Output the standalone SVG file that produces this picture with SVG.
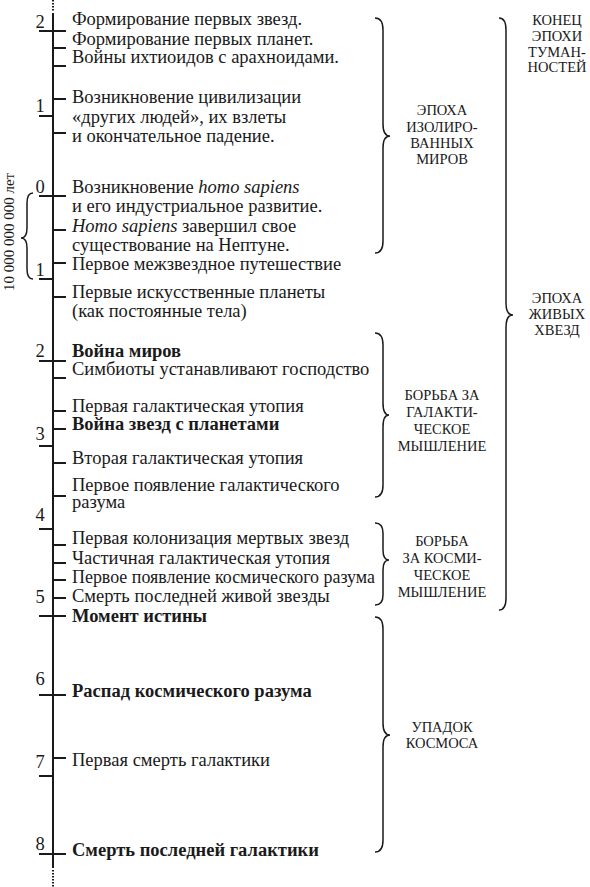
<svg xmlns="http://www.w3.org/2000/svg" width="590" height="887" viewBox="0 0 590 887">
<style>
text{font-family:'Liberation Serif','DejaVu Serif','Times New Roman',serif;fill:#1a1a1a}
.t{font-size:18.5px}
.b{font-weight:bold}
.i{font-style:italic}
.n{font-size:18.5px;text-anchor:middle}
.l{font-size:14.5px;text-anchor:middle}
.v{font-size:15px;text-anchor:middle}
.ax{stroke:#1a1a1a;stroke-width:2;fill:none}
.dot{stroke:#1a1a1a;stroke-width:2;stroke-dasharray:1.5 1.5;fill:none}
.br{stroke:#1a1a1a;stroke-width:1.5;fill:none}
</style>
<g id="connectors">
<line class="dot" x1="53" y1="0" x2="53" y2="11"/>
<line class="ax" x1="53" y1="13" x2="53" y2="868"/>
<line class="dot" x1="53" y1="870" x2="53" y2="887"/>
<path class="ax" d="M39,31H66M39,196H66M39,361H66M39,616H66M39,695H66M39,854H66"/>
<path class="ax" d="M39,116H53M39,279H53M39,446H53M39,529H53M39,776H53"/>
<path class="ax" d="M53,48H66M53,66H66M53,99H66M53,133H66M53,230H66M53,263H66M53,297H66M53,378H66M53,411H66M53,429H66M53,463H66M53,496H66M53,545H66M53,563H66M53,580H66M53,598H66M53,758H66"/>
<path class="br" d="M375,18Q383,18 383,30L383,124Q383,136 390,136Q383,136 383,148L383,241Q383,253 375,253"/>
<path class="br" d="M375,333Q383,333 383,345L383,403Q383,415 389,415Q383,415 383,427L383,485Q383,497 375,497"/>
<path class="br" d="M375,523Q383,523 383,533L383,550Q383,560 389,560Q383,560 383,570L383,595Q383,605 375,605"/>
<path class="br" d="M375,617Q383,617 383,629L383,723Q383,735 390,735Q383,735 383,747L383,840Q383,852 375,852"/>
<path class="br" d="M499,18Q506,18 506,30L506,303Q506,315 513,315Q506,315 506,327L506,598Q506,610 499,610"/>
<path class="br" d="M33,193Q27,193 27,203L27,228Q27,238 21,238Q27,238 27,248L27,269Q27,279 33,279"/>
</g>
<g id="scale">
<text class="n" x="40" y="28">2</text>
<text class="n" x="40" y="112">1</text>
<text class="n" x="40" y="193">0</text>
<text class="n" x="40" y="276">1</text>
<text class="n" x="40" y="357">2</text>
<text class="n" x="40" y="440">3</text>
<text class="n" x="40" y="521">4</text>
<text class="n" x="40" y="603">5</text>
<text class="n" x="40" y="685">6</text>
<text class="n" x="40" y="768">7</text>
<text class="n" x="40" y="850">8</text>
<text class="v" transform="translate(14,232) rotate(-90)" x="0" y="0">10 000 000 000 лет</text>
</g>
<g id="events">
<text class="t" x="72" y="25">Формирование первых звезд.</text>
<text class="t" x="72" y="45">Формирование первых планет.</text>
<text class="t" x="72" y="63">Войны ихтиоидов с арахноидами.</text>
<text class="t" x="72" y="103">Возникновение цивилизации</text>
<text class="t" x="72" y="123">«других людей», их взлеты</text>
<text class="t" x="72" y="142">и окончательное падение.</text>
<text class="t" x="72" y="193">Возникновение <tspan class="i">homo sapiens</tspan></text>
<text class="t" x="72" y="212">и его индустриальное развитие.</text>
<text class="t" x="72" y="232"><tspan class="i">Homo sapiens</tspan> завершил свое</text>
<text class="t" x="72" y="251">существование на Нептуне.</text>
<text class="t" x="72" y="270">Первое межзвездное путешествие</text>
<text class="t" x="72" y="298">Первые искусственные планеты</text>
<text class="t" x="72" y="317">(как постоянные тела)</text>
<text class="t b" x="72" y="357">Война миров</text>
<text class="t" x="72" y="375">Симбиоты устанавливают господство</text>
<text class="t" x="72" y="412">Первая галактическая утопия</text>
<text class="t b" x="72" y="430">Война звезд с планетами</text>
<text class="t" x="72" y="464">Вторая галактическая утопия</text>
<text class="t" x="72" y="491">Первое появление галактического</text>
<text class="t" x="72" y="508">разума</text>
<text class="t" x="72" y="544">Первая колонизация мертвых звезд</text>
<text class="t" x="72" y="564">Частичная галактическая утопия</text>
<text class="t" x="72" y="583" textLength="303" lengthAdjust="spacingAndGlyphs">Первое появление космического разума</text>
<text class="t" x="72" y="602">Смерть последней живой звезды</text>
<text class="t b" x="72" y="622">Момент истины</text>
<text class="t b" x="72" y="697">Распад космического разума</text>
<text class="t" x="72" y="766">Первая смерть галактики</text>
<text class="t b" x="72" y="856">Смерть последней галактики</text>
</g>
<g id="epoch-isolated">
<text class="l" x="442" y="115">ЭПОХА</text>
<text class="l" x="442" y="132">ИЗОЛИРО-</text>
<text class="l" x="442" y="148">ВАННЫХ</text>
<text class="l" x="442" y="164">МИРОВ</text>
</g>
<g id="epoch-nebulae-end">
<text class="l" x="557" y="25">КОНЕЦ</text>
<text class="l" x="557" y="41">ЭПОХИ</text>
<text class="l" x="557" y="57">ТУМАН-</text>
<text class="l" x="557" y="72">НОСТЕЙ</text>
</g>
<g id="epoch-living-stars">
<text class="l" x="557" y="303">ЭПОХА</text>
<text class="l" x="557" y="319">ЖИВЫХ</text>
<text class="l" x="557" y="335">ХВЕЗД</text>
</g>
<g id="galactic-mind">
<text class="l" x="442" y="400">БОРЬБА ЗА</text>
<text class="l" x="442" y="417">ГАЛАКТИ-</text>
<text class="l" x="442" y="434">ЧЕСКОЕ</text>
<text class="l" x="442" y="451">МЫШЛЕНИЕ</text>
</g>
<g id="cosmic-mind">
<text class="l" x="442" y="546">БОРЬБА</text>
<text class="l" x="442" y="563">ЗА КОСМИ-</text>
<text class="l" x="442" y="580">ЧЕСКОЕ</text>
<text class="l" x="442" y="597">МЫШЛЕНИЕ</text>
</g>
<g id="cosmos-decline">
<text class="l" x="442" y="732">УПАДОК</text>
<text class="l" x="442" y="748">КОСМОСА</text>
</g>
</svg>
